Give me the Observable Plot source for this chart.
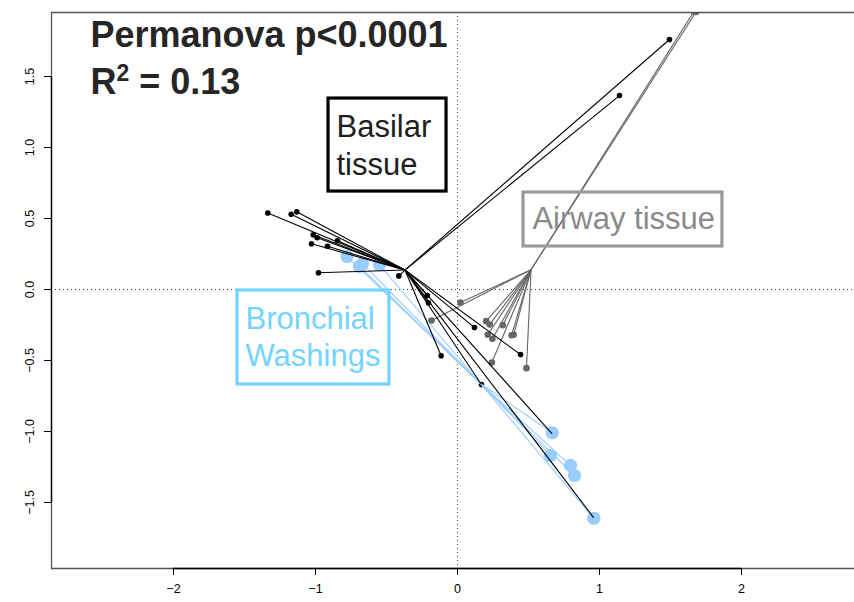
<!DOCTYPE html>
<html><head><meta charset="utf-8">
<script src="https://cdn.jsdelivr.net/npm/d3@7"></script>
<script src="https://cdn.jsdelivr.net/npm/@observablehq/plot@0.6"></script>
<style>
html,body{margin:0;padding:0;background:#fff}
#chart{width:854px;height:602px}
svg text{white-space:pre}
</style>
</head><body><div id="chart"></div>
<script>
// ---- axis ticks ----
const xTicks = [-2, -1, 0, 1, 2];
const yTicks = [-1.5, -1, -0.5, 0, 0.5, 1, 1.5];

// ---- group names / colours ----
const groups = ["Basilar tissue", "Airway tissue", "Bronchial Washings"];
const groupColors = ["#000000", "#666666", "#99CCFF"];

// ---- group centroids (PCoA axis 1 / axis 2) ----
const centroidX = [-0.370, 0.518, 0.162];
const centroidY = [0.137, 0.139, -0.662];

// ---- Basilar tissue samples ----
const basilarX = [-1.336, -1.171, -1.132, -1.016, -0.988, -1.028, -0.915, -0.845, -0.979, -0.413,
                  -0.213, -0.204, 0.120, -0.115, 0.444, 0.169, 0.667, 0.960, 1.493, 1.141];
const basilarY = [0.539, 0.530, 0.547, 0.385, 0.364, 0.322, 0.305, 0.343, 0.118, 0.096,
                  -0.042, -0.094, -0.268, -0.467, -0.458, -0.669, -1.016, -1.608, 1.761, 1.366];

// ---- Airway tissue samples ----
const airwayX = [0.021, -0.183, 0.202, 0.227, 0.319, 0.213, 0.246, 0.396, 0.381, 0.242, 0.486, 1.665, 1.680];
const airwayY = [-0.092, -0.218, -0.223, -0.246, -0.251, -0.319, -0.347, -0.319, -0.322, -0.514, -0.554, 1.958, 1.955];

// ---- Bronchial washings samples ----
const washX = [-0.777, -0.690, -0.669, -0.549, 0.667, 0.655, 0.796, 0.824, 0.960];
const washY = [0.232, 0.162, 0.183, 0.174, -1.009, -1.169, -1.239, -1.310, -1.611];

// ---- annotation texts ----
const titleLines = ["Permanova p<0.0001", "R² = 0.13"];
const labelLines = [["Basilar", "tissue"], ["Airway tissue"], ["Bronchial", "Washings"]];

// ---------------------------------------------------------------
const xDomain = [-2.859, 2.796];
const yDomain = [-1.965, 1.951];
const FONT = "'Liberation Sans', Arial, Helvetica, sans-serif";

const sampleX = [basilarX, airwayX, washX];
const sampleY = [basilarY, airwayY, washY];
const samples = groups.map((g, gi) => sampleX[gi].map((x, i) => ({
  group: g, gi, x, y: sampleY[gi][i], cx: centroidX[gi], cy: centroidY[gi]
})));

// label layout (annotation boxes, in plot units)
const boxes = [
  {x1: -0.908, x2: -0.077, y1: 1.345, y2: 0.690, stroke: "#000000", text: "#1e1e1e", tx: -0.852, ty: [1.077, 0.810]},
  {x1: 0.465, x2: 1.866, y1: 0.683, y2: 0.303, stroke: "#9a9a9a", text: "#8a8a8a", tx: 0.528, ty: [0.423]},
  {x1: -1.549, x2: -0.479, y1: -0.007, y2: -0.669, stroke: "#74D3FF", text: "#74D3FF", tx: -1.493, ty: [-0.275, -0.542]}
];
const labelTexts = [];
boxes.forEach((b, i) => labelLines[i].forEach((t, j) => labelTexts.push({t, x: b.tx, y: b.ty[j], fill: b.text})));
const titleTexts = titleLines.map((t, i) => ({t, x: -2.585, y: [1.711, 1.380][i]}));

const dotR = [2.8, 3.3, 6.6];
const linkW = [1.1, 1.1, 1.1];

const marks = [
  // zero reference lines
  Plot.ruleY([0], {stroke: "#444", strokeWidth: 1, strokeDasharray: "1,3"}),
  Plot.ruleX([0], {stroke: "#444", strokeWidth: 1, strokeDasharray: "1,3"}),
];
// sample points
[0, 1, 2].forEach(gi => marks.push(
  Plot.dot(samples[gi], {x: "x", y: "y", r: dotR[gi], fill: groupColors[gi], stroke: "none", clip: true})
));
// spider segments to centroid
[2, 1, 0].forEach(gi => marks.push(
  Plot.link(samples[gi], {x1: "cx", y1: "cy", x2: "x", y2: "y", stroke: groupColors[gi], strokeWidth: linkW[gi], clip: true})
));
// label boxes
boxes.forEach(b => marks.push(
  Plot.rect([b], {x1: "x1", x2: "x2", y1: "y1", y2: "y2", fill: "none", stroke: b.stroke, strokeWidth: 3.2})
));
marks.push(Plot.text(labelTexts, {x: "x", y: "y", text: "t", fill: "fill", textAnchor: "start", lineAnchor: "bottom",
  fontSize: 31, fontFamily: FONT}));
// title (Permanova statistics)
marks.push(Plot.text(titleTexts, {x: "x", y: "y", text: "t", textAnchor: "start", lineAnchor: "bottom",
  fontSize: 36, fontWeight: "bold", fill: "#262626", fontFamily: FONT}));
// frame
marks.push(
  Plot.ruleY([yDomain[1]], {stroke: "#555", strokeWidth: 1.3}),
  Plot.ruleY([yDomain[0]], {stroke: "#555", strokeWidth: 1.3}),
  Plot.ruleX([xDomain[0]], {stroke: "#555", strokeWidth: 1.3}),
  Plot.ruleY([yDomain[0]], {x1: xTicks[0], x2: xTicks[xTicks.length - 1], stroke: "#000", strokeWidth: 1.3}),
  Plot.ruleX([xDomain[0]], {y1: yTicks[0], y2: yTicks[yTicks.length - 1], stroke: "#000", strokeWidth: 1.3}),
  Plot.axisX(xTicks, {anchor: "bottom", tickSize: 7, tickPadding: 9, fontSize: 12.5, fontFamily: FONT, tickFormat: d => String(d).replace("-", "\u2212"), stroke: "#000"}),
  Plot.axisY(yTicks, {anchor: "left", tickSize: 7, tickPadding: 11, tickRotate: -90, fontSize: 12.5, fontFamily: FONT,
    tickFormat: d => d.toFixed(1).replace("-", "\u2212"), stroke: "#000"})
);

const svg = Plot.plot({
  width: 854, height: 602,
  marginLeft: 51, marginRight: 0, marginTop: 12, marginBottom: 34,
  x: {domain: xDomain}, y: {domain: yDomain},
  style: {background: "white", fontFamily: FONT, color: "#000"},
  marks
});

// R² superscript
d3.select(svg).selectAll("text").each(function () {
  if (this.textContent !== titleLines[1]) return;
  const t = d3.select(this);
  t.text(null);
  t.append("tspan").text("R");
  t.append("tspan").attr("font-size", "23px").attr("dy", "-13").text("2");
  t.append("tspan").attr("dy", "13").text(" = 0.13");
});
document.getElementById("chart").appendChild(svg);
</script>
</body></html>
